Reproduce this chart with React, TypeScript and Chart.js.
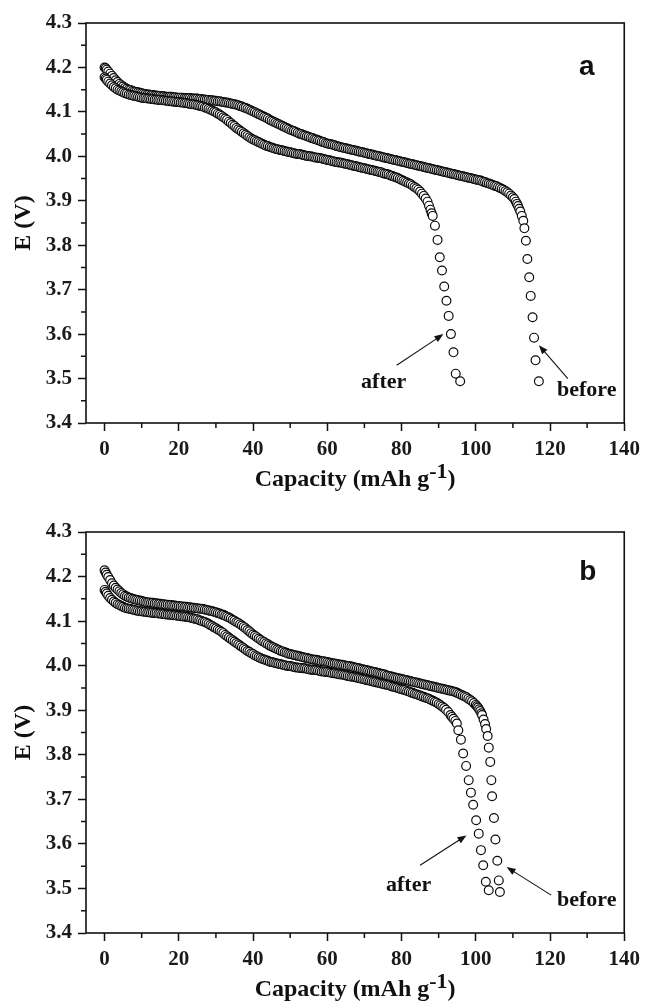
import React, { useEffect, useRef } from "react";
import { Chart, registerables } from "chart.js";

Chart.register(...registerables);

// ---------- axis ticks ----------
const xTicks = [0, 20, 40, 60, 80, 100, 120, 140];
const xMinorTicks = [10, 30, 50, 70, 90, 110, 130];
const yTicks = [3.4, 3.5, 3.6, 3.7, 3.8, 3.9, 4.0, 4.1, 4.2, 4.3];
const yMinorTicks = [3.45, 3.55, 3.65, 3.75, 3.85, 3.95, 4.05, 4.15, 4.25];

// ---------- panel a : [capacity (mAh/g), E (V)] ----------
const aBefore: [number, number][] = [
  [0, 4.2], [0.3, 4.198], [0.6, 4.195], [1, 4.191], [1.5, 4.186], [2, 4.181], [2.5, 4.176], [3, 4.171], [3.5, 4.167], [4, 4.163],
  [4.5, 4.16], [5, 4.157], [5.5, 4.154], [6, 4.152], [6.5, 4.15], [7, 4.149], [7.5, 4.147], [8, 4.146], [8.5, 4.145], [9, 4.144],
  [9.5, 4.143], [10, 4.142], [10.5, 4.141], [11, 4.14], [11.5, 4.139], [12, 4.139], [12.5, 4.138], [13, 4.138], [13.5, 4.137], [14, 4.137],
  [14.5, 4.136], [15, 4.136], [15.5, 4.135], [16, 4.135], [16.5, 4.134], [17, 4.134], [17.5, 4.134], [18, 4.134], [18.5, 4.133], [19, 4.133],
  [19.5, 4.132], [20, 4.132], [20.5, 4.132], [21, 4.132], [21.5, 4.131], [22, 4.131], [22.5, 4.131], [23, 4.131], [23.5, 4.13], [24, 4.13],
  [24.5, 4.13], [25, 4.13], [25.5, 4.129], [26, 4.129], [26.5, 4.128], [27, 4.128], [27.5, 4.127], [28, 4.127], [28.5, 4.126], [29, 4.126],
  [29.5, 4.125], [30, 4.125], [30.5, 4.124], [31, 4.124], [31.5, 4.123], [32, 4.122], [32.5, 4.121], [33, 4.121], [33.5, 4.12], [34, 4.119],
  [34.5, 4.118], [35, 4.117], [35.5, 4.116], [36, 4.115], [36.5, 4.113], [37, 4.112], [37.5, 4.11], [38, 4.109], [38.5, 4.107], [39, 4.105],
  [39.5, 4.103], [40, 4.101], [40.5, 4.099], [41, 4.097], [41.5, 4.095], [42, 4.093], [42.5, 4.091], [43, 4.089], [43.5, 4.087], [44, 4.085],
  [44.5, 4.082], [45, 4.08], [45.5, 4.078], [46, 4.076], [46.5, 4.074], [47, 4.072], [47.5, 4.07], [48, 4.068], [48.5, 4.066], [49, 4.064],
  [49.5, 4.062], [50, 4.06], [50.5, 4.058], [51, 4.057], [51.5, 4.055], [52, 4.053], [52.5, 4.051], [53, 4.05], [53.5, 4.048], [54, 4.047],
  [54.5, 4.045], [55, 4.044], [55.5, 4.042], [56, 4.041], [56.5, 4.039], [57, 4.038], [57.5, 4.036], [58, 4.035], [58.5, 4.033], [59, 4.032],
  [59.5, 4.03], [60, 4.029], [60.5, 4.028], [61, 4.027], [61.5, 4.026], [62, 4.025], [62.5, 4.023], [63, 4.022], [63.5, 4.021], [64, 4.02],
  [64.5, 4.019], [65, 4.018], [65.5, 4.017], [66, 4.016], [66.5, 4.015], [67, 4.014], [67.5, 4.013], [68, 4.012], [68.5, 4.011], [69, 4.01],
  [69.5, 4.009], [70, 4.008], [70.5, 4.007], [71, 4.006], [71.5, 4.005], [72, 4.004], [72.5, 4.003], [73, 4.002], [73.5, 4.001], [74, 4.0],
  [74.5, 3.999], [75, 3.998], [75.5, 3.997], [76, 3.996], [76.5, 3.995], [77, 3.994], [77.5, 3.993], [78, 3.992], [78.5, 3.991], [79, 3.99],
  [79.5, 3.989], [80, 3.988], [80.5, 3.987], [81, 3.986], [81.5, 3.985], [82, 3.984], [82.5, 3.983], [83, 3.982], [83.5, 3.981], [84, 3.98],
  [84.5, 3.979], [85, 3.978], [85.5, 3.977], [86, 3.976], [86.5, 3.975], [87, 3.974], [87.5, 3.973], [88, 3.972], [88.5, 3.971], [89, 3.97],
  [89.5, 3.969], [90, 3.968], [90.5, 3.967], [91, 3.966], [91.5, 3.965], [92, 3.964], [92.5, 3.963], [93, 3.962], [93.5, 3.961], [94, 3.96],
  [94.5, 3.959], [95, 3.958], [95.5, 3.957], [96, 3.956], [96.5, 3.955], [97, 3.954], [97.5, 3.953], [98, 3.952], [98.5, 3.951], [99, 3.95],
  [99.5, 3.949], [100, 3.948], [100.5, 3.947], [101, 3.946], [101.5, 3.945], [102, 3.943], [102.5, 3.942], [103, 3.94], [103.5, 3.939], [104, 3.937],
  [104.5, 3.936], [105, 3.934], [105.5, 3.933], [106, 3.931], [106.5, 3.929], [107, 3.927], [107.5, 3.925], [108, 3.922], [108.5, 3.919], [109, 3.916],
  [109.5, 3.912], [110, 3.908], [110.4, 3.904], [110.8, 3.898], [111.1, 3.893], [111.4, 3.888], [111.7, 3.882], [112, 3.876], [112.4, 3.866], [112.8, 3.855],
  [113.1, 3.838], [113.5, 3.81], [113.9, 3.769], [114.4, 3.728], [114.8, 3.686], [115.3, 3.638], [115.7, 3.592], [116.1, 3.541], [117.0, 3.494],
];

const aAfter: [number, number][] = [
  [0, 4.178], [0.3, 4.175], [0.6, 4.172], [1, 4.168], [1.5, 4.164], [2, 4.16], [2.5, 4.156], [3, 4.153], [3.5, 4.15], [4, 4.148],
  [4.5, 4.146], [5, 4.144], [5.5, 4.142], [6, 4.141], [6.5, 4.139], [7, 4.138], [7.5, 4.137], [8, 4.136], [8.5, 4.135], [9, 4.134],
  [9.5, 4.133], [10, 4.132], [10.5, 4.131], [11, 4.131], [11.5, 4.13], [12, 4.13], [12.5, 4.129], [13, 4.129], [13.5, 4.128], [14, 4.128],
  [14.5, 4.127], [15, 4.127], [15.5, 4.126], [16, 4.126], [16.5, 4.125], [17, 4.125], [17.5, 4.124], [18, 4.124], [18.5, 4.123], [19, 4.123],
  [19.5, 4.122], [20, 4.122], [20.5, 4.121], [21, 4.121], [21.5, 4.12], [22, 4.12], [22.5, 4.119], [23, 4.118], [23.5, 4.117], [24, 4.117],
  [24.5, 4.116], [25, 4.115], [25.5, 4.114], [26, 4.113], [26.5, 4.112], [27, 4.11], [27.5, 4.109], [28, 4.107], [28.5, 4.105], [29, 4.103],
  [29.5, 4.101], [30, 4.099], [30.5, 4.096], [31, 4.094], [31.5, 4.091], [32, 4.088], [32.5, 4.085], [33, 4.082], [33.5, 4.078], [34, 4.075],
  [34.5, 4.071], [35, 4.068], [35.5, 4.064], [36, 4.061], [36.5, 4.058], [37, 4.055], [37.5, 4.052], [38, 4.049], [38.5, 4.046], [39, 4.043],
  [39.5, 4.04], [40, 4.038], [40.5, 4.036], [41, 4.034], [41.5, 4.032], [42, 4.03], [42.5, 4.028], [43, 4.026], [43.5, 4.024], [44, 4.023],
  [44.5, 4.021], [45, 4.02], [45.5, 4.018], [46, 4.017], [46.5, 4.016], [47, 4.015], [47.5, 4.014], [48, 4.013], [48.5, 4.012], [49, 4.011],
  [49.5, 4.01], [50, 4.009], [50.5, 4.008], [51, 4.007], [51.5, 4.006], [52, 4.005], [52.5, 4.005], [53, 4.004], [53.5, 4.003], [54, 4.002],
  [54.5, 4.001], [55, 4.0], [55.5, 4.0], [56, 3.999], [56.5, 3.998], [57, 3.997], [57.5, 3.997], [58, 3.996], [58.5, 3.995], [59, 3.994],
  [59.5, 3.993], [60, 3.992], [60.5, 3.991], [61, 3.99], [61.5, 3.989], [62, 3.988], [62.5, 3.987], [63, 3.986], [63.5, 3.986], [64, 3.985],
  [64.5, 3.984], [65, 3.983], [65.5, 3.982], [66, 3.981], [66.5, 3.98], [67, 3.979], [67.5, 3.978], [68, 3.977], [68.5, 3.976], [69, 3.975],
  [69.5, 3.974], [70, 3.973], [70.5, 3.972], [71, 3.971], [71.5, 3.97], [72, 3.969], [72.5, 3.968], [73, 3.967], [73.5, 3.966], [74, 3.965],
  [74.5, 3.964], [75, 3.962], [75.5, 3.961], [76, 3.96], [76.5, 3.959], [77, 3.957], [77.5, 3.956], [78, 3.954], [78.5, 3.953], [79, 3.951],
  [79.5, 3.949], [80, 3.947], [80.5, 3.945], [81, 3.943], [81.5, 3.941], [82, 3.939], [82.5, 3.937], [83, 3.934], [83.5, 3.931], [84, 3.928],
  [84.5, 3.925], [85, 3.921], [85.5, 3.916], [86, 3.911], [86.5, 3.905], [87, 3.898], [87.4, 3.889], [87.8, 3.88], [88.1, 3.872], [88.4, 3.866],
  [89.0, 3.844], [89.7, 3.812], [90.3, 3.773], [90.9, 3.743], [91.5, 3.707], [92.1, 3.675], [92.7, 3.641], [93.3, 3.6], [94.0, 3.559], [94.6, 3.511],
  [95.8, 3.494],
];

// ---------- panel b ----------
const bBefore: [number, number][] = [
  [0, 4.214], [0.3, 4.209], [0.6, 4.204], [1, 4.199], [1.5, 4.192], [2, 4.185], [2.5, 4.18], [3, 4.175], [3.5, 4.171], [4, 4.167],
  [4.5, 4.163], [5, 4.16], [5.5, 4.157], [6, 4.155], [6.5, 4.153], [7, 4.152], [7.5, 4.15], [8, 4.149], [8.5, 4.148], [9, 4.147],
  [9.5, 4.146], [10, 4.145], [10.5, 4.144], [11, 4.143], [11.5, 4.142], [12, 4.142], [12.5, 4.141], [13, 4.141], [13.5, 4.14], [14, 4.14],
  [14.5, 4.139], [15, 4.139], [15.5, 4.138], [16, 4.138], [16.5, 4.137], [17, 4.137], [17.5, 4.136], [18, 4.136], [18.5, 4.135], [19, 4.135],
  [19.5, 4.134], [20, 4.134], [20.5, 4.133], [21, 4.133], [21.5, 4.132], [22, 4.132], [22.5, 4.131], [23, 4.131], [23.5, 4.13], [24, 4.13],
  [24.5, 4.129], [25, 4.129], [25.5, 4.128], [26, 4.128], [26.5, 4.127], [27, 4.126], [27.5, 4.125], [28, 4.124], [28.5, 4.123], [29, 4.122],
  [29.5, 4.121], [30, 4.12], [30.5, 4.118], [31, 4.117], [31.5, 4.115], [32, 4.114], [32.5, 4.112], [33, 4.11], [33.5, 4.108], [34, 4.106],
  [34.5, 4.103], [35, 4.101], [35.5, 4.098], [36, 4.096], [36.5, 4.093], [37, 4.09], [37.5, 4.087], [38, 4.084], [38.5, 4.08], [39, 4.077],
  [39.5, 4.073], [40, 4.07], [40.5, 4.067], [41, 4.064], [41.5, 4.061], [42, 4.058], [42.5, 4.055], [43, 4.053], [43.5, 4.05], [44, 4.048],
  [44.5, 4.045], [45, 4.043], [45.5, 4.041], [46, 4.039], [46.5, 4.037], [47, 4.035], [47.5, 4.033], [48, 4.032], [48.5, 4.03], [49, 4.029],
  [49.5, 4.027], [50, 4.026], [50.5, 4.025], [51, 4.024], [51.5, 4.023], [52, 4.022], [52.5, 4.021], [53, 4.02], [53.5, 4.019], [54, 4.018],
  [54.5, 4.017], [55, 4.016], [55.5, 4.015], [56, 4.014], [56.5, 4.013], [57, 4.013], [57.5, 4.012], [58, 4.011], [58.5, 4.01], [59, 4.01],
  [59.5, 4.009], [60, 4.008], [60.5, 4.007], [61, 4.006], [61.5, 4.005], [62, 4.005], [62.5, 4.004], [63, 4.003], [63.5, 4.002], [64, 4.002],
  [64.5, 4.001], [65, 4.0], [65.5, 3.999], [66, 3.999], [66.5, 3.998], [67, 3.997], [67.5, 3.996], [68, 3.995], [68.5, 3.994], [69, 3.993],
  [69.5, 3.992], [70, 3.991], [70.5, 3.99], [71, 3.989], [71.5, 3.988], [72, 3.987], [72.5, 3.986], [73, 3.985], [73.5, 3.984], [74, 3.983],
  [74.5, 3.982], [75, 3.981], [75.5, 3.98], [76, 3.978], [76.5, 3.977], [77, 3.976], [77.5, 3.975], [78, 3.974], [78.5, 3.973], [79, 3.972],
  [79.5, 3.971], [80, 3.97], [80.5, 3.969], [81, 3.968], [81.5, 3.967], [82, 3.966], [82.5, 3.965], [83, 3.964], [83.5, 3.963], [84, 3.962],
  [84.5, 3.961], [85, 3.96], [85.5, 3.959], [86, 3.958], [86.5, 3.957], [87, 3.956], [87.5, 3.955], [88, 3.954], [88.5, 3.953], [89, 3.952],
  [89.5, 3.951], [90, 3.95], [90.5, 3.949], [91, 3.948], [91.5, 3.947], [92, 3.946], [92.5, 3.945], [93, 3.944], [93.5, 3.943], [94, 3.942],
  [94.5, 3.941], [95, 3.939], [95.5, 3.937], [96, 3.935], [96.5, 3.933], [97, 3.931], [97.5, 3.929], [98, 3.926], [98.5, 3.923], [99, 3.92],
  [99.5, 3.916], [100, 3.912], [100.3, 3.909], [100.6, 3.906], [100.9, 3.902], [101.2, 3.898], [101.5, 3.893], [101.7, 3.889], [102.1, 3.879], [102.5, 3.869],
  [102.8, 3.858], [103.2, 3.842], [103.5, 3.816], [103.9, 3.784], [104.2, 3.743], [104.4, 3.707], [104.9, 3.658], [105.3, 3.61], [105.8, 3.562], [106.2, 3.518],
  [106.5, 3.492],
];

const bAfter: [number, number][] = [
  [0, 4.17], [0.3, 4.166], [0.6, 4.162], [1, 4.157], [1.5, 4.152], [2, 4.148], [2.5, 4.144], [3, 4.141], [3.5, 4.138], [4, 4.136],
  [4.5, 4.134], [5, 4.132], [5.5, 4.13], [6, 4.129], [6.5, 4.128], [7, 4.127], [7.5, 4.126], [8, 4.125], [8.5, 4.124], [9, 4.123],
  [9.5, 4.122], [10, 4.122], [10.5, 4.121], [11, 4.121], [11.5, 4.12], [12, 4.12], [12.5, 4.119], [13, 4.119], [13.5, 4.118], [14, 4.118],
  [14.5, 4.117], [15, 4.117], [15.5, 4.116], [16, 4.116], [16.5, 4.115], [17, 4.115], [17.5, 4.114], [18, 4.114], [18.5, 4.113], [19, 4.113],
  [19.5, 4.112], [20, 4.112], [20.5, 4.111], [21, 4.111], [21.5, 4.11], [22, 4.11], [22.5, 4.109], [23, 4.108], [23.5, 4.107], [24, 4.106],
  [24.5, 4.105], [25, 4.104], [25.5, 4.102], [26, 4.101], [26.5, 4.099], [27, 4.098], [27.5, 4.096], [28, 4.094], [28.5, 4.091], [29, 4.089],
  [29.5, 4.086], [30, 4.084], [30.5, 4.081], [31, 4.079], [31.5, 4.076], [32, 4.073], [32.5, 4.069], [33, 4.066], [33.5, 4.063], [34, 4.06],
  [34.5, 4.057], [35, 4.054], [35.5, 4.051], [36, 4.048], [36.5, 4.045], [37, 4.042], [37.5, 4.039], [38, 4.036], [38.5, 4.033], [39, 4.031],
  [39.5, 4.028], [40, 4.026], [40.5, 4.023], [41, 4.021], [41.5, 4.019], [42, 4.017], [42.5, 4.015], [43, 4.014], [43.5, 4.012], [44, 4.011],
  [44.5, 4.009], [45, 4.008], [45.5, 4.007], [46, 4.006], [46.5, 4.005], [47, 4.004], [47.5, 4.003], [48, 4.002], [48.5, 4.001], [49, 4.0],
  [49.5, 3.999], [50, 3.999], [50.5, 3.998], [51, 3.997], [51.5, 3.996], [52, 3.996], [52.5, 3.995], [53, 3.995], [53.5, 3.994], [54, 3.994],
  [54.5, 3.993], [55, 3.992], [55.5, 3.991], [56, 3.991], [56.5, 3.99], [57, 3.99], [57.5, 3.989], [58, 3.988], [58.5, 3.987], [59, 3.987],
  [59.5, 3.986], [60, 3.986], [60.5, 3.985], [61, 3.984], [61.5, 3.983], [62, 3.983], [62.5, 3.982], [63, 3.981], [63.5, 3.98], [64, 3.98],
  [64.5, 3.979], [65, 3.978], [65.5, 3.977], [66, 3.976], [66.5, 3.975], [67, 3.975], [67.5, 3.974], [68, 3.973], [68.5, 3.972], [69, 3.971],
  [69.5, 3.97], [70, 3.969], [70.5, 3.968], [71, 3.967], [71.5, 3.966], [72, 3.965], [72.5, 3.964], [73, 3.963], [73.5, 3.962], [74, 3.961],
  [74.5, 3.96], [75, 3.959], [75.5, 3.958], [76, 3.957], [76.5, 3.956], [77, 3.955], [77.5, 3.953], [78, 3.952], [78.5, 3.951], [79, 3.95],
  [79.5, 3.948], [80, 3.947], [80.5, 3.946], [81, 3.945], [81.5, 3.943], [82, 3.942], [82.5, 3.94], [83, 3.939], [83.5, 3.937], [84, 3.936],
  [84.5, 3.934], [85, 3.933], [85.5, 3.931], [86, 3.93], [86.5, 3.928], [87, 3.927], [87.5, 3.925], [88, 3.923], [88.5, 3.921], [89, 3.919],
  [89.5, 3.917], [90, 3.914], [90.5, 3.911], [91, 3.908], [91.5, 3.905], [92, 3.901], [92.6, 3.896], [93.2, 3.889], [93.6, 3.885], [94.0, 3.881],
  [94.5, 3.876], [94.9, 3.87], [95.3, 3.855], [96.0, 3.834], [96.6, 3.803], [97.4, 3.775], [98.1, 3.743], [98.7, 3.715], [99.3, 3.688], [100.1, 3.653],
  [100.8, 3.623], [101.4, 3.586], [102.0, 3.552], [102.7, 3.515], [103.5, 3.496],
];

type Note = { text: string; at: [number, number]; from: [number, number]; to: [number, number] };

type Panel = {
  letter: string;
  letterAt: [number, number];
  before: [number, number][];
  after: [number, number][];
  notes: Note[];
  top: number;
  height: number;
  padTop: number;
  xHeight: number;
};

const panels: Panel[] = [
  {
    letter: "a",
    letterAt: [129.9, 4.2],
    before: aBefore,
    after: aAfter,
    notes: [
      { text: "after", at: [75.2, 3.492], from: [78.7, 3.53], to: [91.3, 3.6] },
      { text: "before", at: [129.9, 3.474], from: [124.8, 3.5], to: [117.0, 3.575] },
    ],
    top: 0,
    height: 500,
    padTop: 23,
    xHeight: 77,
  },
  {
    letter: "b",
    letterAt: [130.2, 4.21],
    before: bBefore,
    after: bAfter,
    notes: [
      { text: "after", at: [81.9, 3.507], from: [85.0, 3.552], to: [97.5, 3.619] },
      { text: "before", at: [129.9, 3.474], from: [120.3, 3.485], to: [108.3, 3.548] },
    ],
    top: 500,
    height: 503,
    padTop: 32,
    xHeight: 70,
  },
];

const SERIF = '"Liberation Serif", "Times New Roman", Times, serif';
const SANS = '"Liberation Sans", Arial, Helvetica, sans-serif';

function decorPlugin(panel: Panel) {
  return {
    id: "decor",
    afterDraw(chart: any) {
      const { ctx, chartArea } = chart;
      const { left, top, right, bottom } = chartArea;
      const x = chart.scales.x;
      const y = chart.scales.y;
      ctx.save();
      // frame
      ctx.strokeStyle = "#111";
      ctx.lineWidth = 1.6;
      ctx.strokeRect(left, top, right - left, bottom - top);
      // minor ticks
      ctx.lineWidth = 1.5;
      ctx.beginPath();
      xMinorTicks.forEach((v) => {
        const px = x.getPixelForValue(v);
        ctx.moveTo(px, bottom);
        ctx.lineTo(px, bottom + 5);
      });
      yMinorTicks.forEach((v) => {
        const py = y.getPixelForValue(v);
        ctx.moveTo(left, py);
        ctx.lineTo(left - 5, py);
      });
      ctx.stroke();

      // panel letter
      ctx.fillStyle = "#111";
      ctx.font = `bold 28px ${SANS}`;
      ctx.textAlign = "center";
      ctx.textBaseline = "middle";
      ctx.fillText(panel.letter, x.getPixelForValue(panel.letterAt[0]), y.getPixelForValue(panel.letterAt[1]));

      // annotations
      ctx.font = `bold 22px ${SERIF}`;
      panel.notes.forEach((n) => {
        ctx.fillText(n.text, x.getPixelForValue(n.at[0]), y.getPixelForValue(n.at[1]));
        const x1 = x.getPixelForValue(n.from[0]);
        const y1 = y.getPixelForValue(n.from[1]);
        const x2 = x.getPixelForValue(n.to[0]);
        const y2 = y.getPixelForValue(n.to[1]);
        const ang = Math.atan2(y2 - y1, x2 - x1);
        const hl = 9;
        const hw = 3.5;
        ctx.beginPath();
        ctx.lineWidth = 1.1;
        ctx.moveTo(x1, y1);
        ctx.lineTo(x2 - Math.cos(ang) * hl * 0.8, y2 - Math.sin(ang) * hl * 0.8);
        ctx.stroke();
        ctx.beginPath();
        ctx.moveTo(x2, y2);
        ctx.lineTo(x2 - Math.cos(ang) * hl - Math.sin(ang) * hw, y2 - Math.sin(ang) * hl + Math.cos(ang) * hw);
        ctx.lineTo(x2 - Math.cos(ang) * hl + Math.sin(ang) * hw, y2 - Math.sin(ang) * hl - Math.cos(ang) * hw);
        ctx.closePath();
        ctx.fill();
      });

      // y title
      ctx.save();
      ctx.translate(24, (top + bottom) / 2);
      ctx.rotate(-Math.PI / 2);
      ctx.font = `bold 24px ${SERIF}`;
      ctx.textAlign = "center";
      ctx.textBaseline = "middle";
      ctx.fillText("E (V)", 0, 0);
      ctx.restore();

      // x title with superscript
      const main = "Capacity (mAh g";
      const sup = "-1";
      const close = ")";
      const fMain = `bold 24px ${SERIF}`;
      const fSup = `bold 22px ${SERIF}`;
      ctx.textAlign = "left";
      ctx.textBaseline = "alphabetic";
      ctx.font = fMain;
      const wMain = ctx.measureText(main).width;
      const wClose = ctx.measureText(close).width;
      ctx.font = fSup;
      const wSup = ctx.measureText(sup).width;
      const total = wMain + wSup + wClose;
      const cx = (left + right) / 2;
      const base = bottom + 63;
      let sx = cx - total / 2;
      ctx.font = fMain;
      ctx.fillText(main, sx, base);
      sx += wMain;
      ctx.font = fSup;
      ctx.fillText(sup, sx, base - 8);
      sx += wSup;
      ctx.font = fMain;
      ctx.fillText(close, sx, base);
      ctx.restore();
    },
  };
}

function PanelChart({ panel }: { panel: Panel }) {
  const ref = useRef<HTMLCanvasElement | null>(null);
  useEffect(() => {
    if (!ref.current) return;
    const pointStyle = {
      showLine: false,
      pointStyle: "circle" as const,
      pointRadius: 4.4,
      pointBorderWidth: 1.2,
      pointBackgroundColor: "#ffffff",
      pointBorderColor: "#0a0a0a",
      backgroundColor: "#ffffff",
      borderColor: "#0a0a0a",
    };
    const chart = new Chart(ref.current, {
      type: "scatter",
      data: {
        datasets: [
          { label: "after", data: panel.after.map(([x, y]) => ({ x, y })), ...pointStyle },
          { label: "before", data: panel.before.map(([x, y]) => ({ x, y })), ...pointStyle },
        ],
      },
      options: {
        animation: false,
        responsive: false,
        devicePixelRatio: 1,
        layout: { padding: { left: 0, right: 20, top: panel.padTop, bottom: 0 } },
        plugins: { legend: { display: false }, tooltip: { enabled: false } },
        events: [],
        scales: {
          x: {
            type: "linear",
            min: -5,
            max: 140,
            afterBuildTicks: (s: any) => {
              s.ticks = xTicks.map((v) => ({ value: v }));
            },
            afterFit: (s: any) => {
              s.height = panel.xHeight;
            },
            border: { display: false },
            grid: { drawOnChartArea: false, drawTicks: true, tickLength: 8, tickWidth: 1.5, tickColor: "#111" },
            ticks: {
              color: "#1a1a1a",
              padding: 6,
              maxRotation: 0,
              font: { family: SERIF, size: 21, weight: "bold" },
              callback: (v: any) => String(v),
            },
          },
          y: {
            type: "linear",
            min: 3.4,
            max: 4.3,
            afterBuildTicks: (s: any) => {
              s.ticks = yTicks.map((v) => ({ value: v }));
            },
            afterFit: (s: any) => {
              s.width = 86;
            },
            border: { display: false },
            grid: { drawOnChartArea: false, drawTicks: true, tickLength: 8, tickWidth: 1.5, tickColor: "#111" },
            ticks: {
              color: "#1a1a1a",
              padding: 6,
              font: { family: SERIF, size: 21, weight: "bold" },
              callback: (v: any) => Number(v).toFixed(1),
            },
          },
        },
      },
      plugins: [decorPlugin(panel)],
    } as any);
    return () => chart.destroy();
  }, [panel]);
  return (
    <canvas
      ref={ref}
      width={646}
      height={panel.height}
      style={{ position: "absolute", left: 0, top: panel.top, width: 646, height: panel.height }}
    />
  );
}

export default function App() {
  return (
    <div style={{ position: "absolute", left: 0, top: 0, width: 646, height: 1003, background: "#fff" }}>
      {panels.map((p) => (
        <PanelChart key={p.letter} panel={p} />
      ))}
    </div>
  );
}
